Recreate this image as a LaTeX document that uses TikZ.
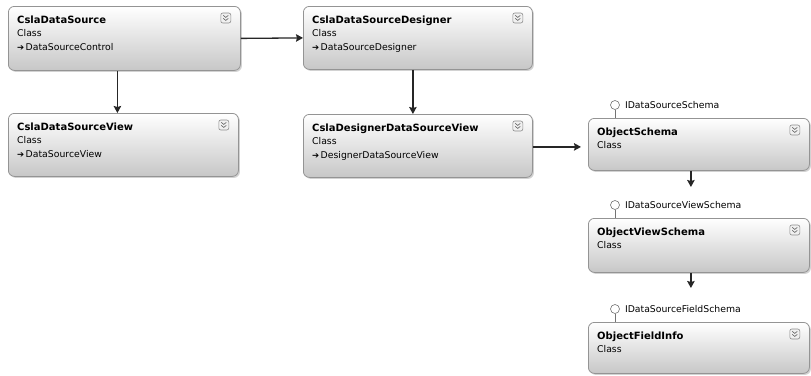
\documentclass[tikz,border=0pt]{standalone}
\usepackage{fontspec}
\setmainfont{DejaVu Sans}
\usetikzlibrary{arrows.meta,shadows,calc}

\tikzset{
  clsbox/.style={draw=black!42, line width=0.8pt, rounded corners=6pt,
    top color=white, bottom color=black!22,
    drop shadow={shadow xshift=1.5pt, shadow yshift=-1.5pt, opacity=0.35},
    anchor=north west, inner sep=0pt},
  ttl/.style={font=\fontsize{10}{12}\selectfont\bfseries, anchor=base west, inner sep=0pt},
  sub/.style={font=\fontsize{9.3}{11}\selectfont, anchor=base west, inner sep=0pt},
  iconbox/.style={draw=black!45, line width=0.6pt, fill=black!6, rounded corners=2pt,
    minimum width=10pt, minimum height=10pt, inner sep=0pt},
  chev/.style={draw=black!65, line width=0.6pt},
  lolli/.style={circle, draw=black!55, fill=white, line width=0.6pt, minimum size=9pt, inner sep=0pt},
  lolline/.style={draw=black!55, line width=0.6pt},
  arr/.style={draw=black!85, line width=1.3pt, -{Stealth[length=7pt,width=7.5pt,inset=1pt]}},
}

% name, x, y, width, height, title
\newcommand\ClassBox[6]{%
  \node[clsbox, minimum width=#4pt, minimum height=#5pt] (#1) at (#2,#3) {};
  \node[ttl] (#1-t) at ([xshift=9pt,yshift=-17pt]#1.north west) {#6};
  \node[sub] (#1-c) at ([xshift=9pt,yshift=-30pt]#1.north west) {Class};
  \node[iconbox] (#1-i) at ([xshift=-15pt,yshift=-12pt]#1.north east) {};
  \draw[chev] ([xshift=-2.5pt,yshift=2.6pt]#1-i.center) -- ++(2.5,2) -- ++(2.5,-2);
  \draw[chev] ([xshift=-2.5pt,yshift=-0.4pt]#1-i.center) -- ++(2.5,2) -- ++(2.5,-2);
}
\newcommand\BaseType[2]{%
  \node[sub] (#1-b) at ([xshift=9pt,yshift=-44pt]#1.north west) {\fontsize{8.5}{10}\selectfont ➔\,\fontsize{9.3}{11}\selectfont #2};
}
\newcommand\Lolli[2]{%
  \node[lolli] (#1-l) at ([xshift=27pt,yshift=13pt]#1.north west) {};
  \draw[lolline] (#1-l.south) -- (#1-l.south |- #1.north);
  \node[sub, anchor=west] (#1-ln) at ([xshift=5pt]#1-l.east) {#2};
}

\begin{document}
\begin{tikzpicture}[x=1pt,y=-1pt]
  \fill[white] (0,0) rectangle (811,375);
  \useasboundingbox (0,0) rectangle (811,375);

  \ClassBox{B1}{8}{6}{232}{64}{CslaDataSource}
  \BaseType{B1}{DataSourceControl}
  \ClassBox{B2}{8}{113}{230}{63}{CslaDataSourceView}
  \BaseType{B2}{DataSourceView}
  \ClassBox{B3}{303}{6}{229}{63}{CslaDataSourceDesigner}
  \BaseType{B3}{DataSourceDesigner}
  \ClassBox{B4}{303}{114}{229}{63}{CslaDesignerDataSourceView}
  \BaseType{B4}{DesignerDataSourceView}

  \ClassBox{OS}{588}{118}{221}{52}{ObjectSchema}
  \Lolli{OS}{IDataSourceSchema}
  \ClassBox{OVS}{588}{218}{221}{54}{ObjectViewSchema}
  \Lolli{OVS}{IDataSourceViewSchema}
  \ClassBox{OFI}{588}{322}{221}{51}{ObjectFieldInfo}
  \Lolli{OFI}{IDataSourceFieldSchema}

  \draw[arr] (B1.east) -- (B3.west);
  \draw[arr] ([xshift=-7pt]B1.south) -- ([xshift=-7pt]B1.south |- B2.north);
  \draw[arr] ([xshift=-5pt]B3.south) -- ([xshift=-5pt]B3.south |- B4.north);
  \draw[arr] ([yshift=-1pt]B4.east) -- ([xshift=-7pt,yshift=-1pt]OS.west |- B4.east);
  \draw[arr] ([xshift=-8pt]OS.south) -- ([xshift=-8pt,yshift=31pt]OVS.north);
  \draw[arr] ([xshift=-8pt]OVS.south) -- ([xshift=-8pt,yshift=34pt]OFI.north);
\end{tikzpicture}
\end{document}
